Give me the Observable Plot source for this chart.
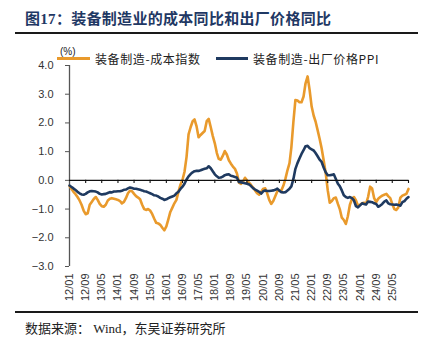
<!DOCTYPE html>
<html><head><meta charset="utf-8">
<script src="https://cdn.jsdelivr.net/npm/d3@7"></script>
<script src="https://cdn.jsdelivr.net/npm/@observablehq/plot@0.6"></script>
<style>
body{margin:0;background:#fff;width:430px;height:352px;position:relative;overflow:hidden;font-family:"Liberation Sans",Arial,sans-serif;}
#title{position:absolute;left:25px;top:7px;font-weight:bold;font-size:15px;font-family:"Liberation Serif","Noto Sans CJK SC",serif;color:#1f3864;white-space:nowrap;letter-spacing:0.3px;z-index:2;}
.hr{position:absolute;left:15px;width:403px;height:2px;background:#1a1a1a;z-index:2;}
#chart{position:absolute;left:0;top:40px;z-index:1;}
.lg{position:absolute;z-index:2;white-space:nowrap;font-family:"Noto Sans CJK SC",sans-serif;font-size:12px;color:#222;letter-spacing:0.6px;}
.sw{position:absolute;height:3px;z-index:2;}
#unit{position:absolute;left:60px;top:46px;font-size:10px;color:#222;z-index:3;font-family:"Liberation Sans",Arial,sans-serif;}
#caption{position:absolute;left:25px;top:318px;font-size:13px;font-family:"Liberation Serif","Noto Sans CJK SC",serif;color:#222;white-space:nowrap;z-index:2;}
</style>
</head><body>
<div id="title">图17：装备制造业的成本同比和出厂价格同比</div>
<div class="hr" style="top:32px"></div>
<div id="chart"></div>
<div id="unit">(%)</div>
<div class="sw" style="left:57px;top:57px;width:33px;background:#e99a2c"></div>
<div class="lg" style="left:95px;top:50px">装备制造-成本指数</div>
<div class="sw" style="left:216px;top:57px;width:32px;background:#1f3a60"></div>
<div class="lg" style="left:253px;top:50px">装备制造-出厂价格PPI</div>
<div class="hr" style="top:311px"></div>
<div id="caption">数据来源：&nbsp;Wind，东吴证券研究所</div>
<script>
// Monthly series, 2012/01 onward
const seriesNames = ["装备制造-成本指数", "装备制造-出厂价格PPI"];
const seriesColors = ["#e99a2c", "#1f3a60"];
const costIndex = [
-0.20,-0.30,-0.40,-0.48,-0.58,-0.70,-0.85,-1.05,-1.18,-1.15,-0.85,-0.75,
-0.65,-0.58,-0.68,-0.82,-0.90,-0.92,-0.85,-0.70,-0.64,-0.62,-0.64,-0.66,
-0.68,-0.72,-0.80,-0.75,-0.62,-0.45,-0.36,-0.38,-0.47,-0.55,-0.60,-0.66,
-0.85,-1.00,-1.03,-1.00,-1.05,-1.17,-1.33,-1.48,-1.50,-1.55,-1.65,-1.74,
-1.60,-1.35,-1.10,-0.95,-0.80,-0.68,-0.40,-0.15,0.02,0.30,0.82,1.60,
1.85,2.06,2.12,1.88,1.50,1.58,1.65,1.72,2.06,2.14,1.85,1.55,
1.29,0.95,0.75,0.72,0.85,1.02,0.90,0.70,0.58,0.48,0.40,0.24,
-0.08,-0.12,-0.05,0.09,0.00,-0.08,-0.16,-0.25,-0.35,-0.45,-0.50,-0.40,
-0.29,-0.28,-0.45,-0.68,-0.82,-0.72,-0.55,-0.38,-0.35,-0.35,-0.18,0.05,
0.35,0.60,1.15,2.05,2.80,2.78,2.72,2.72,2.92,3.38,3.62,3.15,
2.57,2.25,2.05,1.75,1.45,1.11,0.70,0.25,-0.35,-0.78,-0.72,-0.62,
-0.60,-0.82,-1.00,-1.30,-1.38,-1.52,-1.25,-0.85,-0.65,-0.58,-0.70,-0.88,
-0.85,-0.80,-0.78,-0.82,-0.58,-0.22,-0.28,-0.62,-0.76,-0.64,-0.58,-0.53,
-0.50,-0.47,-0.55,-0.62,-0.82,-1.00,-1.03,-0.94,-0.60,-0.53,-0.50,-0.47,
-0.30];
const factoryPPI = [
-0.18,-0.23,-0.28,-0.34,-0.40,-0.45,-0.49,-0.50,-0.47,-0.42,-0.38,-0.37,
-0.38,-0.39,-0.42,-0.47,-0.49,-0.48,-0.47,-0.44,-0.41,-0.42,-0.39,-0.39,
-0.38,-0.38,-0.36,-0.33,-0.32,-0.28,-0.25,-0.27,-0.29,-0.29,-0.31,-0.33,
-0.35,-0.38,-0.39,-0.42,-0.45,-0.48,-0.52,-0.53,-0.56,-0.61,-0.64,-0.68,
-0.66,-0.62,-0.59,-0.56,-0.53,-0.45,-0.40,-0.30,-0.22,-0.12,0.03,0.14,
0.22,0.28,0.32,0.33,0.33,0.35,0.38,0.40,0.42,0.49,0.42,0.32,
0.21,0.14,0.09,0.10,0.13,0.18,0.20,0.21,0.16,0.14,0.12,0.09,
-0.06,-0.07,-0.08,-0.10,-0.12,-0.14,-0.20,-0.27,-0.32,-0.36,-0.40,-0.46,
-0.38,-0.35,-0.37,-0.37,-0.36,-0.35,-0.33,-0.29,-0.36,-0.41,-0.42,-0.41,
-0.35,-0.29,-0.21,0.05,0.40,0.60,0.76,0.92,1.05,1.19,1.20,1.12,
1.08,1.04,0.95,0.84,0.72,0.64,0.45,0.28,0.18,0.18,0.19,0.21,
0.05,-0.12,-0.20,-0.35,-0.52,-0.58,-0.61,-0.58,-0.62,-0.70,-0.90,-0.94,
-0.87,-0.80,-0.82,-0.84,-0.74,-0.75,-0.76,-0.80,-0.82,-0.92,-0.88,-0.82,
-0.74,-0.70,-0.80,-0.83,-0.84,-0.85,-0.84,-0.86,-0.88,-0.76,-0.72,-0.64,
-0.58];
const tickLabels = ["12/01","12/09","13/05","14/01","14/09","15/05","16/01","16/09","17/05","18/01","18/09","19/05","20/01","20/09","21/05","22/01","22/09","23/05","24/01","24/09","25/05",""];
const yTicks = [-3,-2,-1,0,1,2,3,4];

const parseTick = s => null;
const startDate = new Date(Date.UTC(2012,0,1));
const endDate = new Date(Date.UTC(2026,0,1));
const tickDates = tickLabels.map((_, i) => new Date(Date.UTC(2012, i*8, 1)));
const labelOf = new Map(tickDates.map((d, i) => [+d, tickLabels[i]]));

const rows = [];
[costIndex, factoryPPI].forEach((arr, s) => arr.forEach((v, i) => rows.push({date: new Date(Date.UTC(2012, i, 1)), value: v, series: seriesNames[s]})));

const chart = Plot.plot({
  width: 430, height: 272,
  marginLeft: 69, marginRight: 22, marginTop: 25, marginBottom: 46,
  style: {fontFamily: "'Liberation Sans', Arial, sans-serif", fontSize: "11px", color: "#333", background: "transparent"},
  x: {type: "utc", domain: [startDate, endDate]},
  y: {domain: [-3, 4]},
  color: {domain: seriesNames, range: seriesColors},
  marks: [
    Plot.ruleX([startDate], {y1: -3, y2: 4, stroke: "#555", strokeWidth: 1.3}),
    Plot.axisY({ticks: yTicks, tickFormat: d3.format(".1f"), tickSize: 4, tickPadding: 12, stroke: "#555", fill: "#333", label: null, style: "letter-spacing:1.5px"}),
    Plot.axisX({ticks: tickDates.slice(0, -1), tickFormat: d => labelOf.get(+d), tickSize: 0, tickPadding: 7, tickRotate: -90, label: null, fill: "#333"}),
    Plot.line(rows, {x: "date", y: "value", stroke: "series", strokeWidth: 2.6, curve: "linear"}),
    Plot.ruleY([0], {stroke: "#111", strokeWidth: 1.3}),
    Plot.ruleX(tickDates.slice(1), {y1: 0, y2: -0.11, stroke: "#111", strokeWidth: 1.1})
  ]
});
document.getElementById("chart").appendChild(chart);
</script>
</body></html>
